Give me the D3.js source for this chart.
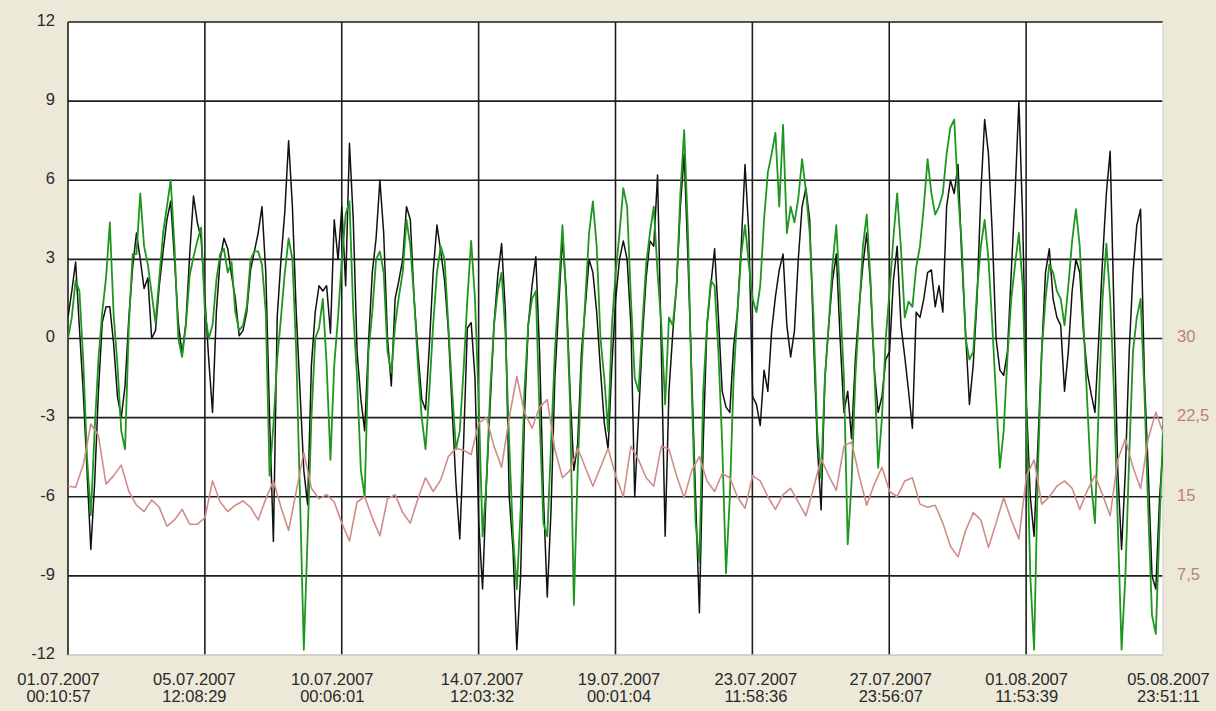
<!DOCTYPE html>
<html>
<head>
<meta charset="utf-8">
<script src="https://cdn.jsdelivr.net/npm/d3@7"></script>
<style>
  body { margin: 0; background: #ece9d8; }
  text { font-family: "Liberation Sans", Arial, sans-serif; }
</style>
</head>
<body>
<div id="chart"></div>
<script>
// Sampling of the logged series
var startLabel = "01.07.2007 00:10:57";
var endLabel = "05.08.2007 23:51:11";
var stepHours = 3;       // black + green sample every 3 hours
var pinkStepHours = 6;   // pink sample every 6 hours

// x axis tick labels
var xTickLabels = ["01.07.2007 00:10:57", "05.07.2007 12:08:29", "10.07.2007 00:06:01",
    "14.07.2007 12:03:32", "19.07.2007 00:01:04", "23.07.2007 11:58:36",
    "27.07.2007 23:56:07", "01.08.2007 11:53:39", "05.08.2007 23:51:11"];

// left and right axis ticks
var leftTicks = [12, 9, 6, 3, 0, -3, -6, -9, -12];
var rightTicks = [7.5, 15, 22.5, 30];

// black series (left axis)
var blackValues = [
    0.8, 1.8, 2.9, 0.4, -2.0, -5.0, -8.0, -5.5,
    -2.0, 0.6, 1.2, 1.2, -0.2, -2.2, -3.0, -1.8,
    0.8, 2.7, 4.0, 3.0, 1.9, 2.3, 0.0, 0.3,
    2.0, 3.3, 4.5, 5.2, 3.0, 0.6, -0.6, 0.6,
    3.2, 5.4, 4.4, 3.8, 1.5, -0.8, -2.8, 1.0,
    3.0, 3.8, 3.4, 2.4, 1.5, 0.1, 0.3, 1.0,
    2.6, 3.3, 4.0, 5.0, 2.5, -3.0, -7.7, 0.8,
    3.0, 4.8, 7.5, 5.0, 1.0, -2.0, -5.0, -6.3,
    -1.0, 1.0, 2.0, 1.8, 2.0, 0.2, 4.5, 3.0,
    5.0, 2.0, 7.4, 4.5, -0.5, -2.3, -3.5, -0.2,
    2.5, 3.8, 6.0, 4.0, 0.0, -1.8, 1.5, 2.2,
    3.0, 5.0, 4.5, 1.5, -0.5, -2.3, -2.7, -0.3,
    2.5, 4.3, 3.3, 2.2, 0.3, -2.7, -5.5, -7.6,
    -4.0, 0.4, 0.6, -1.5, -7.0, -9.5, -5.5, -2.5,
    0.5, 2.4, 3.6, 1.0, -6.0, -8.0, -11.8, -9.0,
    -3.0, 0.5, 2.0, 3.1, -0.6, -6.0, -9.8, -6.5,
    -1.5, 1.2, 3.8, 1.8, -2.0, -5.0, -4.0, -0.5,
    1.2, 3.0, 2.5, 1.0, -1.2, -3.2, -4.2, -1.0,
    1.5, 3.0, 3.7, 3.0, 0.5, -6.0, -3.0, 0.0,
    2.3, 3.7, 3.5, 6.2, -0.5, -7.5, -2.0, 0.2,
    2.0, 5.0, 7.0, 3.0, -1.5, -6.0, -10.4, -4.0,
    0.5, 2.0, 3.4, 0.8, -2.0, -2.6, -2.8, -0.3,
    1.0, 3.5, 6.6, 4.0, -2.2, -2.5, -3.3, -1.2,
    -2.0, 0.3, 1.6, 2.6, 3.2, 0.5, -0.7, 0.3,
    3.0, 5.0, 5.7, 4.5, 0.0, -4.0, -6.5, -1.5,
    0.5, 2.2, 3.2, 0.0, -2.8, -2.0, -3.8, -0.8,
    1.2, 2.8, 4.0, 2.0, -1.2, -2.8, -2.2, -0.8,
    -0.5, 2.2, 3.5, 0.5, -0.7, -2.0, -3.4, 1.0,
    0.8, 1.5, 2.5, 2.6, 1.2, 2.0, 1.0, 5.0,
    6.0, 5.5, 6.6, 3.0, 0.2, -2.5, -1.0, 1.5,
    5.5, 8.3, 7.0, 4.0, 0.0, -1.2, -1.4, -0.5,
    2.5, 5.5, 9.0, 4.5, -2.5, -6.0, -7.5, -4.0,
    -0.5, 2.5, 3.4, 1.5, 0.8, 0.5, -2.0, -0.5,
    1.8, 3.0, 2.5, 0.2, -1.3, -2.1, -2.8, 0.0,
    3.0, 5.5, 7.1, 1.0, -5.0, -8.0, -5.0, -0.5,
    2.5, 4.3, 4.9, -1.5, -5.0, -9.0, -9.5, -6.0, -4.0
];

// green series (left axis)
var greenValues = [
    0.0, 0.8, 2.2, 1.8, -0.8, -4.5, -6.7, -3.5,
    -0.8, 1.0, 2.3, 4.4, 0.9, -1.0, -3.5, -4.2,
    0.5, 3.2, 3.2, 5.5, 3.5, 2.8, 1.7, 0.6,
    2.3, 4.0, 5.0, 6.0, 3.5, 0.0, -0.7, 0.5,
    2.4, 3.1, 3.7, 4.2, 1.0, 0.0, 0.5, 2.2,
    3.2, 3.4, 2.5, 2.9, 1.0, 0.3, 0.5, 1.2,
    3.0, 3.3, 3.3, 2.8, 1.0, -5.2, -3.3, -0.8,
    0.8, 2.5, 3.8, 3.0, -0.5, -6.0, -11.8, -7.5,
    -3.0, 0.0, 0.4, 1.5, -1.0, -4.6, -1.0, 0.8,
    3.0, 4.7, 5.2, 1.0, -1.5, -5.0, -6.0, -0.5,
    1.0, 3.0, 3.3, 2.5, -0.5, -1.3, 0.5, 1.6,
    2.5, 4.5, 3.5, 1.5, -1.0, -3.0, -4.2, -2.0,
    0.5, 2.5, 3.5, 3.0, 0.5, -2.0, -4.2, -3.5,
    -1.2, 1.5, 3.7, 1.5, -2.5, -7.5, -5.5, -2.0,
    0.5, 1.8, 2.5, 0.2, -4.0, -7.5, -9.5, -6.5,
    -2.0, 0.5, 1.5, 1.8, -3.0, -7.0, -7.5, -4.0,
    -0.5, 1.8, 4.3, 1.5, -2.5, -10.1, -5.0, -1.2,
    1.5, 4.0, 5.2, 3.5, 0.0, -1.5, -3.5, 0.5,
    2.5, 4.0, 5.7, 5.0, 1.5, -1.5, -2.0, 0.5,
    2.8, 4.0, 5.0, 2.5, 0.5, -2.5, 0.8, 0.5,
    2.0, 5.5, 7.9, 4.0, -2.0, -7.0, -8.5, -2.0,
    0.5, 2.2, 2.0, -0.5, -4.0, -8.9, -6.0, -1.5,
    1.0, 3.2, 4.3, 2.8, 1.5, 1.0, 2.0, 4.5,
    6.3, 7.0, 7.8, 5.0, 8.1, 4.0, 5.0, 4.4,
    5.3, 6.8, 5.6, 4.0, 0.8, -3.5, -5.3, -1.5,
    0.5, 2.8, 4.3, 1.5, -1.5, -7.8, -5.5, -1.5,
    1.0, 3.5, 4.7, 2.2, -1.2, -4.9, -3.0, 0.0,
    1.8, 3.8, 5.5, 3.4, 0.8, 1.4, 1.2, 2.7,
    3.5, 5.0, 6.8, 5.5, 4.7, 5.0, 5.5, 7.0,
    8.0, 8.3, 5.5, 3.5, 0.0, -0.8, -0.5, 1.8,
    3.5, 4.5, 3.0, 0.5, -2.2, -4.9, -3.5, -0.7,
    1.5, 2.8, 4.0, 2.0, -3.0, -9.0, -11.8, -5.0,
    -0.5, 1.5, 2.8, 2.5, 1.8, 1.5, 0.5, 2.0,
    3.7, 4.9, 3.5, 0.5, -2.5, -5.5, -7.0, -2.5,
    1.5, 3.6, 1.5, -2.0, -7.0, -11.8, -9.0, -4.5,
    -0.5, 0.8, 1.5, -2.0, -6.5, -10.5, -11.2, -7.0, -3.0
];

// pink series (right axis)
var pinkValues = [
    16.0, 15.9, 18.0, 21.9, 20.8, 16.2, 17.0, 18.0,
    15.5, 14.2, 13.6, 14.7, 14.0, 12.2, 12.8, 13.8,
    12.4, 12.4, 13.0, 16.5, 14.5, 13.6, 14.2, 14.6,
    14.0, 12.8, 14.8, 16.5, 14.0, 11.8, 15.5, 19.2,
    15.8, 14.8, 15.2, 14.5, 12.5, 10.8, 14.5, 15.0,
    13.0, 11.3, 14.8, 15.2, 13.5, 12.5, 14.8, 16.8,
    15.5, 16.6, 18.8, 19.6, 19.4, 19.0, 22.0, 22.5,
    19.8, 17.8, 22.5, 26.4, 23.0, 21.5, 23.5, 24.2,
    19.5, 16.8, 17.5, 19.6, 17.8, 16.0, 17.8, 19.6,
    17.0, 15.0, 19.8, 18.5, 16.8, 16.0, 19.8, 19.5,
    17.0, 14.9, 17.5, 18.8, 16.5, 15.5, 17.2, 16.8,
    15.0, 13.9, 17.0, 16.5, 15.0, 13.8, 15.2, 15.8,
    14.5, 13.2, 15.8, 18.6, 17.0, 15.6, 19.8, 20.2,
    17.0, 14.2, 16.2, 17.8, 15.5, 15.0, 16.5, 16.8,
    14.3, 14.0, 14.2, 12.5, 10.3, 9.3, 11.8, 13.5,
    12.8, 10.2, 12.5, 14.9, 12.8, 11.0, 17.0, 18.5,
    14.3, 15.0, 16.0, 16.5, 15.8, 13.8, 15.6, 17.0,
    15.2, 13.2, 18.5, 20.5, 17.8, 15.8, 20.5, 23.0, 21.0
];

var svgWidth = 1216;
var svgHeight = 711;

var margin = {
    top: 22,
    right: 53,
    bottom: 56,
    left: 68
};

var width = svgWidth - margin.left - margin.right;
var height = svgHeight - margin.top - margin.bottom;

var svg = d3.select("#chart")
    .append("svg")
    .attr("width", svgWidth)
    .attr("height", svgHeight)
    .style("display", "block");

svg.append("rect")
    .attr("width", svgWidth)
    .attr("height", svgHeight)
    .attr("fill", "#ece9d8");

var chartGroup = svg.append("g")
    .attr("transform", `translate(${margin.left}, ${margin.top})`);

var parseTime = d3.timeParse("%d.%m.%Y %H:%M:%S");
var startDate = parseTime(startLabel);
var endDate = parseTime(endLabel);
var tickDates = xTickLabels.map(parseTime);

// scales
var xTimeScale = d3.scaleTime()
    .domain([startDate, endDate])
    .range([0, width]);

var yLinearScale = d3.scaleLinear()
    .domain([-12, 12])
    .range([height, 0]);

var yRightScale = d3.scaleLinear()
    .domain([0, 60])
    .range([height, 0]);

// build series with time stamps
function toSeries(values, hours) {
    return values.map(function(v, i) {
        return { t: new Date(startDate.getTime() + i * hours * 3600000), v: v };
    });
}
var blackData = toSeries(blackValues, stepHours);
var greenData = toSeries(greenValues, stepHours);
var pinkData = toSeries(pinkValues, pinkStepHours);

// plot background
chartGroup.append("rect")
    .attr("width", width)
    .attr("height", height)
    .attr("fill", "#ffffff");

// grid lines
chartGroup.append("g")
    .selectAll("line")
    .data(leftTicks.filter(d => d > -12))
    .enter()
    .append("line")
    .attr("x1", 0)
    .attr("x2", width)
    .attr("y1", d => yLinearScale(d))
    .attr("y2", d => yLinearScale(d))
    .attr("stroke", "#1e1e1e")
    .attr("stroke-width", 1.6);

chartGroup.append("g")
    .selectAll("line")
    .data(tickDates.slice(0, -1))
    .enter()
    .append("line")
    .attr("x1", d => xTimeScale(d))
    .attr("x2", d => xTimeScale(d))
    .attr("y1", 0)
    .attr("y2", height)
    .attr("stroke", "#1e1e1e")
    .attr("stroke-width", 1.6);

// light frame on right and bottom
chartGroup.append("line")
    .attr("x1", 0).attr("x2", width)
    .attr("y1", height).attr("y2", height)
    .attr("stroke", "#c9c6b8").attr("stroke-width", 1.5);
chartGroup.append("line")
    .attr("x1", width).attr("x2", width)
    .attr("y1", 0).attr("y2", height)
    .attr("stroke", "#dcdad0").attr("stroke-width", 1.5);

// clip the series to the plot
chartGroup.append("clipPath")
    .attr("id", "plotClip")
    .append("rect")
    .attr("width", width)
    .attr("height", height);

var lineLeft = d3.line()
    .x(d => xTimeScale(d.t))
    .y(d => yLinearScale(d.v));

var lineRight = d3.line()
    .x(d => xTimeScale(d.t))
    .y(d => yRightScale(d.v));

var seriesGroup = chartGroup.append("g")
    .attr("clip-path", "url(#plotClip)");

seriesGroup.append("path")
    .datum(blackData)
    .attr("d", lineLeft)
    .attr("fill", "none")
    .attr("stroke", "#111111")
    .attr("stroke-width", 1.5)
    .attr("stroke-linejoin", "round");

seriesGroup.append("path")
    .datum(greenData)
    .attr("d", lineLeft)
    .attr("fill", "none")
    .attr("stroke", "#1f961f")
    .attr("stroke-width", 1.8)
    .attr("stroke-linejoin", "round");

seriesGroup.append("path")
    .datum(pinkData)
    .attr("d", lineRight)
    .attr("fill", "none")
    .attr("stroke", "#d28c88")
    .attr("stroke-width", 1.6)
    .attr("stroke-linejoin", "round");

// left axis labels
var leftAxis = d3.axisLeft(yLinearScale)
    .tickValues(leftTicks)
    .tickSize(0)
    .tickPadding(13)
    .tickFormat(d => String(d));

var leftG = chartGroup.append("g").call(leftAxis);
leftG.select(".domain").remove();
leftG.selectAll("text")
    .attr("y", -2)
    .attr("font-size", 16.5)
    .attr("fill", "#2a2a2a");

// right axis labels
var rightAxis = d3.axisRight(yRightScale)
    .tickValues(rightTicks)
    .tickSize(0)
    .tickPadding(14)
    .tickFormat(d => String(d).replace(".", ","));

var rightG = chartGroup.append("g")
    .attr("transform", `translate(${width}, 0)`)
    .call(rightAxis);
rightG.select(".domain").remove();
rightG.selectAll("text")
    .attr("y", -2)
    .attr("font-size", 16.5)
    .attr("fill", "#b8827c");

// bottom axis labels, date over time
var labelShift = [-10, -11, -10, 3, 3, 3, 1, 0, 5];

var bottomAxis = d3.axisBottom(xTimeScale)
    .tickValues(tickDates)
    .tickSize(0)
    .tickFormat((d, i) => xTickLabels[i]);

var bottomG = chartGroup.append("g")
    .attr("transform", `translate(0, ${height})`)
    .call(bottomAxis);
bottomG.select(".domain").remove();
bottomG.selectAll("text")
    .each(function(d, i) {
        var parts = xTickLabels[i].split(" ");
        var t = d3.select(this)
            .text(null)
            .attr("dy", null)
            .attr("y", 0)
            .attr("font-size", 16.5)
            .attr("fill", "#2a2a2a")
            .attr("text-anchor", "middle");
        t.append("tspan").attr("x", labelShift[i]).attr("y", 30).text(parts[0]);
        t.append("tspan").attr("x", labelShift[i]).attr("y", 47).text(parts[1]);
    });
</script>
</body>
</html>
